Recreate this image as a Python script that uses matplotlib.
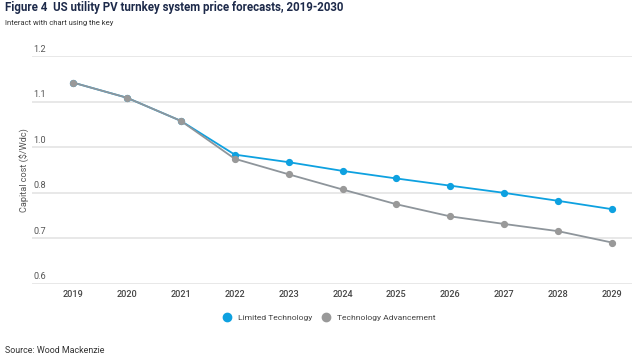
import matplotlib.pyplot as plt
import numpy as np

plt.rcParams['font.family'] = ['Roboto', 'DejaVu Sans']

years = [2019, 2020, 2021, 2022, 2023, 2024, 2025, 2026, 2027, 2028, 2029]
limited = [1.130, 1.090, 1.029, 0.940, 0.920, 0.897, 0.877, 0.858, 0.839, 0.818, 0.796]
advance = [1.130, 1.090, 1.029, 0.929, 0.888, 0.848, 0.809, 0.777, 0.757, 0.738, 0.708]
ytick_vals = [0.6, 0.72, 0.84, 0.96, 1.08, 1.2]

blue = '#0ea1e0'
grey = '#999999'

fig = plt.figure(figsize=(6.4, 3.6), dpi=100)
ax = fig.add_axes([0.05, 0.2125, 0.9375, 0.6319])

ax.plot(years, limited, '-o', color=blue, lw=1.3, ms=4.2, zorder=3, label='Limited Technology')
ax.plot(years, advance, '-o', color='#8e959b', mfc=grey, mec=grey, lw=1.3, ms=4.2, zorder=4,
        label='Technology Advancement')

ax.set_ylim(0.6, 1.2)
ax.set_xlim(2018.24, 2029.37)
ax.set_yticks(ytick_vals)
ax.set_yticklabels([])
ax.tick_params(axis='y', length=0)
ax.grid(axis='y', color='#e6e6e6', lw=1.3)
ax.set_axisbelow(True)
for s in ax.spines.values():
    s.set_visible(False)
for v in ytick_vals:
    ax.text(0.002, v + 0.006, f'{v:.1f}', transform=ax.get_yaxis_transform(),
            ha='left', va='bottom', fontsize=6.6, color='#555555')

ax.set_xticks(years)
ax.set_xticklabels([str(y) for y in years], fontsize=6.6, color='#444444', fontweight='medium')
ax.tick_params(axis='x', length=0, pad=5)

fig.text(0.039, 0.528, 'Capital cost ($/Wdc)', rotation=90, ha='center', va='center',
         fontsize=6.6, color='#555555')

fig.text(0.008, 0.978, 'Figure 4  US utility PV turnkey system price forecasts, 2019-2030',
         fontsize=8.3, fontweight='bold', color='#1d2a4a', va='center')
fig.text(0.008, 0.936, 'Interact with chart using the key', fontsize=5.5, color='#333333',
         va='center')
fig.text(0.008, 0.027, 'Source: Wood Mackenzie', fontsize=6.4, color='#333333', va='center')

h = [plt.Line2D([], [], ls='', marker='o', ms=6, color=blue),
     plt.Line2D([], [], ls='', marker='o', ms=6, color=grey)]
fig.legend(h, ['Limited Technology', 'Technology Advancement'], loc='center',
           bbox_to_anchor=(0.511, 0.118), ncol=2, frameon=False, fontsize=6.1,
           handletextpad=0.3, columnspacing=0.6, labelcolor='#444444')

fig.savefig('out.png', dpi=100)
